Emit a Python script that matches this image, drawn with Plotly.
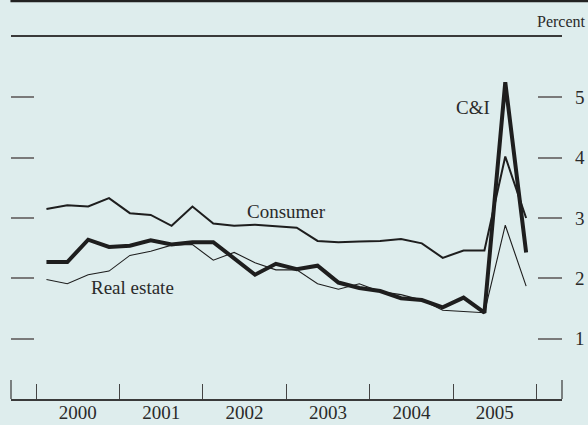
import plotly.graph_objects as go

quarters = [2000 + i // 4 + (i % 4 + 0.5) / 4 for i in range(24)]
consumer = [3.15, 3.21, 3.19, 3.33, 3.08, 3.05, 2.87, 3.19, 2.91, 2.87, 2.89, 2.86,
            2.84, 2.62, 2.60, 2.61, 2.62, 2.65, 2.58, 2.34, 2.46, 2.46, 4.02, 3.00]
c_and_i = [2.27, 2.27, 2.64, 2.52, 2.54, 2.63, 2.56, 2.60, 2.60, 2.34, 2.06, 2.24,
           2.15, 2.21, 1.93, 1.84, 1.79, 1.67, 1.64, 1.52, 1.68, 1.43, 5.25, 2.43]
real_estate = [1.98, 1.91, 2.06, 2.12, 2.38, 2.45, 2.55, 2.56, 2.30, 2.43, 2.26, 2.14,
               2.14, 1.91, 1.82, 1.91, 1.78, 1.73, 1.64, 1.47, 1.45, 1.43, 2.88, 1.87]
years = [2000, 2001, 2002, 2003, 2004, 2005]
year_bounds = [2000, 2001, 2002, 2003, 2004, 2005, 2006]
y_ticks = [1, 2, 3, 4, 5]

XR = [1999.7, 2006.305]
BG = "#deeded"
INK = "#1e1e1e"
FONT = "Liberation Serif"
TXT = "#2a2a2a"

fig = go.Figure()
fig.add_trace(go.Scatter(x=quarters, y=real_estate, mode="lines",
                         line=dict(color=INK, width=1.1), name="Real estate"))
fig.add_trace(go.Scatter(x=quarters, y=consumer, mode="lines",
                         line=dict(color=INK, width=2), name="Consumer"))
fig.add_trace(go.Scatter(x=quarters, y=c_and_i, mode="lines",
                         line=dict(color=INK, width=4), name="C&I"))

fig.update_layout(
    width=588, height=425,
    margin=dict(l=11, r=26.3, t=37, b=26, pad=0, autoexpand=False),
    paper_bgcolor=BG, plot_bgcolor=BG,
    showlegend=False,
    font=dict(family=FONT, size=19, color=TXT),
    xaxis=dict(range=XR, tickmode="array", tickvals=year_bounds, showticklabels=False,
               ticks="inside", ticklen=15, tickwidth=1.3, tickcolor="#444",
               showline=True, linecolor="#3a3a3a", linewidth=1.5, mirror=True,
               showgrid=False, zeroline=False, automargin=False),
    xaxis3=dict(range=XR, overlaying="x", tickmode="array",
                tickvals=[y + 0.5 for y in years], ticktext=[str(y) for y in years],
                ticks="", showgrid=False, zeroline=False, showline=False,
                automargin=False,
                tickfont=dict(family=FONT, size=19, color=TXT)),
    yaxis=dict(range=[0, 6], side="right", tickmode="array", tickvals=y_ticks,
               ticks="inside", ticklen=24, tickwidth=1.6, tickcolor="#7a7a7a",
               showgrid=False, zeroline=False, showline=False,
               ticklabelstandoff=12, automargin=False,
               tickfont=dict(family=FONT, size=19, color=TXT)),
    yaxis2=dict(range=[0, 6], overlaying="y", side="left", tickmode="array",
                tickvals=y_ticks, ticks="inside", ticklen=23, tickwidth=1.6,
                tickcolor="#7a7a7a", showticklabels=False, showgrid=False,
                zeroline=False, showline=False, automargin=False),
)

# dummy traces to activate overlay axes
fig.add_trace(go.Scatter(x=[], y=[], xaxis="x", yaxis="y2", showlegend=False))
fig.add_trace(go.Scatter(x=[], y=[], xaxis="x3", yaxis="y", showlegend=False))

# tall end ticks of the time axis
for xe in (0.0, 1.0):
    fig.add_shape(type="line", xref="paper", yref="paper", x0=xe, x1=xe,
                  y0=0, y1=19 / 362, line=dict(color="#444", width=1.3))

# top border rule
fig.add_shape(type="line", xref="paper", yref="paper", x0=-0.001, x1=1.06,
              y0=1.0995, y1=1.0995, line=dict(color="#222", width=2.5))

fig.add_annotation(text="Percent", xref="paper", yref="paper", x=1.047, y=1.043,
                   xanchor="right", yanchor="middle", showarrow=False,
                   font=dict(family=FONT, size=16, color=TXT))
fig.add_annotation(text="Consumer", x=2003.0, y=3.11, xref="x", yref="y",
                   showarrow=False, font=dict(family=FONT, size=19, color=TXT))
fig.add_annotation(text="Real estate", x=2001.16, y=1.855, xref="x", yref="y",
                   showarrow=False, font=dict(family=FONT, size=19, color=TXT))
fig.add_annotation(text="C&I", x=2005.24, y=4.83, xref="x", yref="y",
                   showarrow=False, font=dict(family=FONT, size=19, color=TXT))

fig.write_html("out.html", config={"displayModeBar": False},
               post_script="document.body.style.margin='0';document.body.style.background='" + BG + "';")
